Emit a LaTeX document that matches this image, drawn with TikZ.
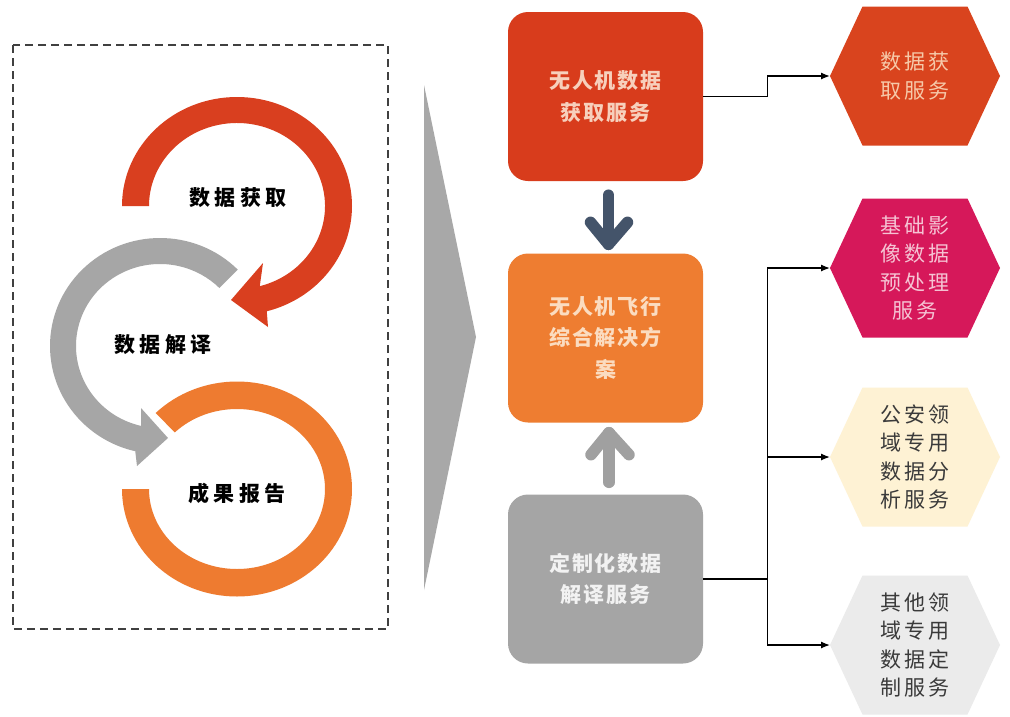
\documentclass[tikz,border=0pt]{standalone}
\usepackage{fontspec}
\newfontfamily\cjkbox[LetterSpace=8]{Noto Sans CJK SC}
\newfontfamily\cjkhex[LetterSpace=16]{Noto Sans CJK SC}
\newfontfamily\cjklab[LetterSpace=22]{Noto Sans CJK SC}
\usetikzlibrary{arrows.meta}
\definecolor{redc}{HTML}{D93F1F}
\definecolor{grayc}{HTML}{A6A6A6}
\definecolor{orangec}{HTML}{EE7B30}
\definecolor{boxone}{HTML}{D83C1C}
\definecolor{boxtwo}{HTML}{EE7D31}
\definecolor{boxthree}{HTML}{A5A5A5}
\definecolor{hexone}{HTML}{D9441E}
\definecolor{hextwo}{HTML}{D6185A}
\definecolor{hexthree}{HTML}{FEF2D4}
\definecolor{hexfour}{HTML}{EBEBEB}
\definecolor{slate}{HTML}{44546A}
\definecolor{uparr}{HTML}{A0A0A0}
\definecolor{trig}{HTML}{A8A8A8}
\definecolor{dashc}{HTML}{404040}
\definecolor{tone}{HTML}{F7D0BC}
\definecolor{ttwo}{HTML}{FBDCC0}
\definecolor{tthree}{HTML}{F2F2F2}
\definecolor{thone}{HTML}{F6C9A9}
\definecolor{thtwo}{HTML}{F5C3D3}
\definecolor{thdark}{HTML}{3A3A3A}
\begin{document}
\begin{tikzpicture}[x=1pt,y=1pt,
  box/.style={rectangle, rounded corners=20pt, minimum width=195pt, minimum height=169pt,
    align=center, inner sep=0pt, font=\cjkbox\bfseries\fontsize{21}{31.5}\selectfont},
  hextext/.style={align=center, inner sep=0pt, font=\cjkhex\fontsize{21}{28.5}\selectfont},
  lab/.style={inner sep=0pt, font=\cjklab\bfseries\fontsize{21}{26}\selectfont, text=black},
  hexa/.pic={\path[pic actions] (-85,0) -- (-52.5,69.5) -- (52.5,69.5) -- (85,0) -- (52.5,-69.5) -- (-52.5,-69.5) -- cycle;},
  conn/.style={line width=1.3pt, draw=black, -{Latex[length=9pt,width=7pt]}},
  plain/.style={line width=1.3pt, draw=black},
  fatarrow/.style={line width=11.5pt, line cap=round, line join=round}
]
\useasboundingbox (0,0) rectangle (1010,-716);
\fill[white] (0,0) rectangle (1010,-716);

% dashed frame
\draw[dashc, line width=1.5pt, dash pattern=on 8pt off 5pt] (13,-45) rectangle (388,-629);

% gray arc (data interpretation)
\begin{scope}[shift={(160,-346)}]
\fill[grayc] (45:110 and 108) arc[start angle=45, end angle=257, x radius=110, y radius=108]
  -- (-23,-120) -- (8,-92) -- (-19,-62) -- (257:84 and 82)
  arc[start angle=257, end angle=45, x radius=84, y radius=82] -- cycle;
\end{scope}
% red arc (data acquisition)
\begin{scope}[shift={(237,-206)}]
\fill[redc] (180:115 and 109) arc[start angle=180, end angle=-75, x radius=115, y radius=109]
  -- (31,-121) -- (-6,-94) -- (26,-57) -- (-75:88 and 83)
  arc[start angle=-75, end angle=180, x radius=88, y radius=83] -- cycle;
\end{scope}
% orange ring (report)
\begin{scope}[shift={(237,-489)}]
\fill[orangec] (180:115 and 107.5) arc[start angle=180, end angle=495, x radius=115, y radius=107.5]
  -- (135:88 and 80) arc[start angle=495, end angle=180, x radius=88, y radius=80] -- cycle;
\end{scope}

\node[lab] (l1) at (238,-198) {数据获取};
\node[lab] (l2) at (163,-345) {数据解译};
\node[lab] (l3) at (237,-493) {成果报告};

% big triangle
\fill[trig] (424,-85) -- (476,-337) -- (424,-590) -- cycle;

% boxes
\node[box, fill=boxone, text=tone] (b1) at (605.5,-96.5) {无人机数据\\获取服务};
\node[box, fill=boxtwo, text=ttwo] (b2) at (605.5,-338) {无人机飞行\\综合解决方\\案};
\node[box, fill=boxthree, text=tthree] (b3) at (605.5,-579) {定制化数据\\解译服务};

% fat arrows
\draw[fatarrow, slate] ([xshift=3pt,yshift=-14pt]b1.south) -- ([xshift=3pt,yshift=9pt]b2.north);
\draw[fatarrow, slate] ([xshift=-15pt,yshift=31pt]b2.north) -- ([xshift=3pt,yshift=9pt]b2.north) -- ([xshift=22pt,yshift=31pt]b2.north);
\draw[fatarrow, uparr] ([xshift=3.5pt,yshift=12pt]b3.north) -- ([xshift=3.5pt,yshift=-10pt]b2.south);
\draw[fatarrow, uparr] ([xshift=-14.5pt,yshift=-32pt]b2.south) -- ([xshift=3.5pt,yshift=-10pt]b2.south) -- ([xshift=23.5pt,yshift=-32pt]b2.south);

% hexagons
\pic[fill=hexone] at (915,-76) {hexa};
\pic[fill=hextwo] at (915,-268) {hexa};
\pic[fill=hexthree] at (915,-457) {hexa};
\pic[fill=hexfour] at (915,-645) {hexa};
\node[hextext, text=thone] (h1) at (915,-76) {数据获\\取服务};
\node[hextext, text=thtwo] (h2) at (915,-268) {基础影\\像数据\\预处理\\服务};
\node[hextext, text=thdark] (h3) at (915,-457) {公安领\\域专用\\数据分\\析服务};
\node[hextext, text=thdark] (h4) at (915,-645) {其他领\\域专用\\数据定\\制服务};
\coordinate (h1w) at (830,-76);
\coordinate (h2w) at (830,-268);
\coordinate (h3w) at (830,-457);
\coordinate (h4w) at (830,-645);

% connectors
\draw[conn] (b1.east) -- ++(64,0) |- (h1w);
\draw[plain] (b3.east) -- ++(64,0) coordinate (j);
\draw[conn] (j) |- (h2w);
\draw[conn] (j) |- (h3w);
\draw[conn] (j) |- (h4w);
\end{tikzpicture}
\end{document}
